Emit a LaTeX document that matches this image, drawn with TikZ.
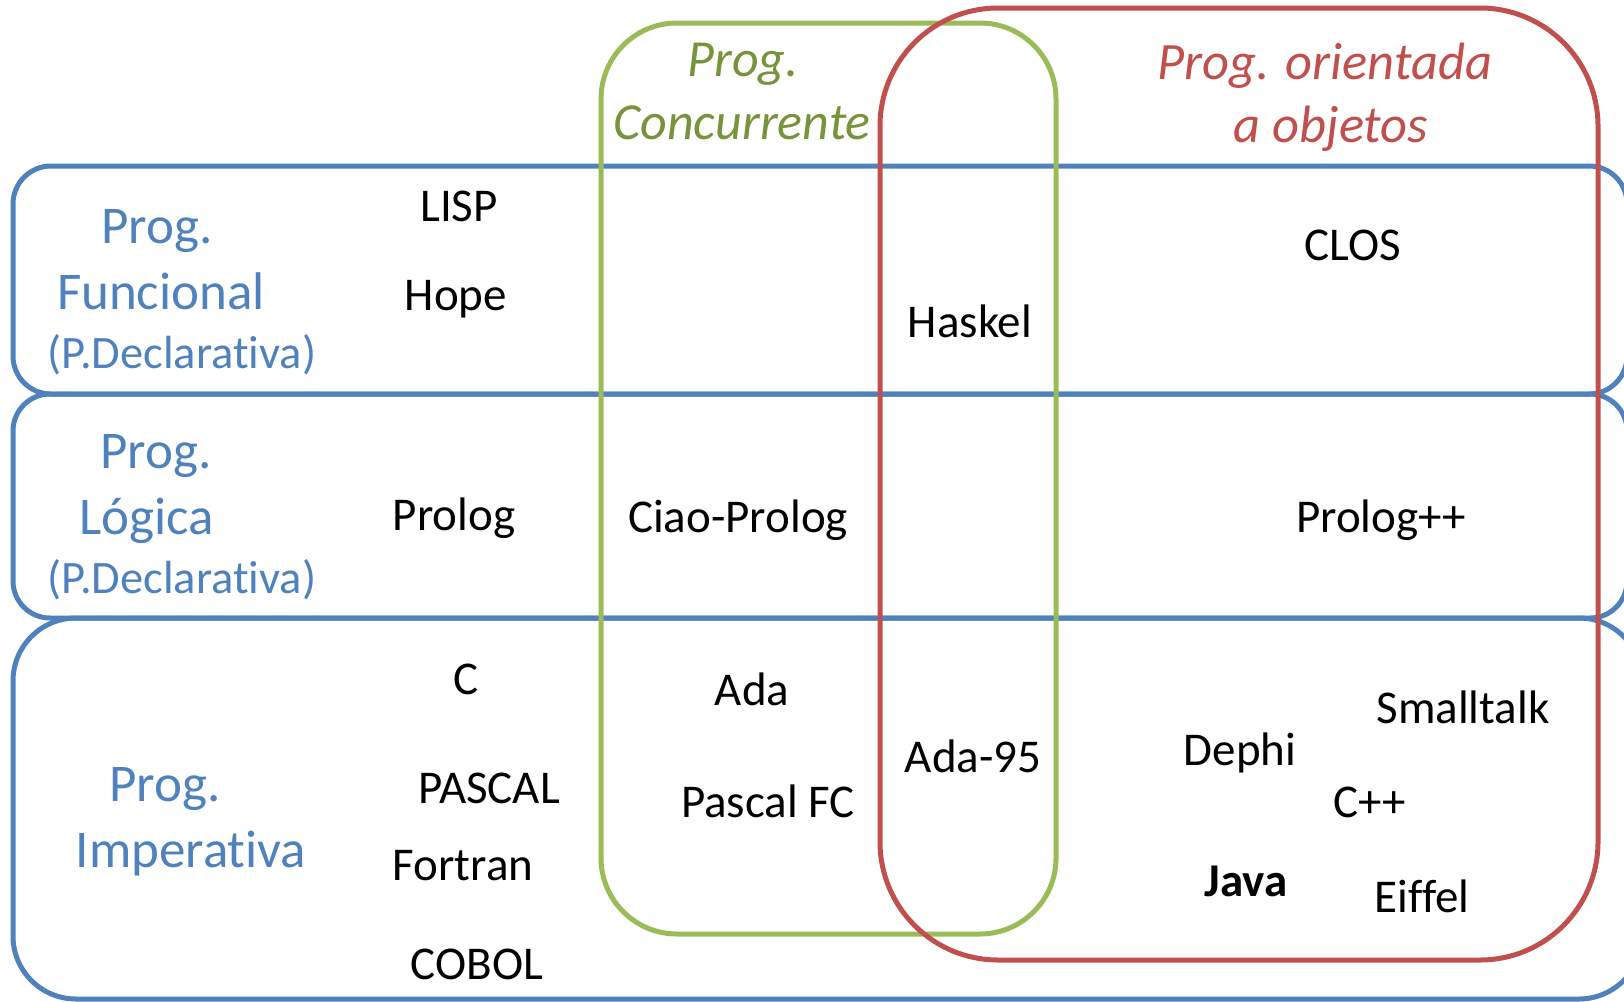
\documentclass[tikz,border=0pt]{standalone}
\usepackage{fontspec}
\setmainfont{Carlito}[Ligatures=NoCommon]
\definecolor{bbox}{HTML}{4F81BD}
\definecolor{rbox}{HTML}{C0504D}
\definecolor{gbox}{HTML}{9BBB59}
\definecolor{gtext}{HTML}{77933C}
\tikzset{
  lang/.style={anchor=base, inner sep=0pt, font=\fontsize{47}{56}\selectfont, text=black},
  btitle/.style={anchor=base, inner sep=0pt, font=\fontsize{53}{62}\selectfont, text=bbox},
  bpar/.style={anchor=base, inner sep=0pt, font=\fontsize{46.5}{55}\selectfont, text=bbox},
  gtitle/.style={anchor=base, inner sep=0pt, font=\fontsize{52}{62}\selectfont\itshape, text=gtext},
  rtitle/.style={anchor=base, inner sep=0pt, font=\fontsize{52.5}{62}\selectfont\itshape, text=rbox},
  bluebox/.style={draw=bbox, line width=5pt},
  greenbox/.style={draw=gbox, line width=5pt},
  redbox/.style={draw=rbox, line width=5pt}
}
\begin{document}
\begin{tikzpicture}[x=1pt, y=-1pt]
\useasboundingbox (0,0) rectangle (1624,1001);
% paradigm rows
\draw[bluebox, rounded corners=38pt] (13,166) rectangle (1627,394);
\draw[bluebox, rounded corners=37pt] (13,394) rectangle (1627,618);
\draw[bluebox, rounded corners=63pt] (13,618) rectangle (1642,999);
% concurrent
\draw[greenbox, rounded corners=76pt] (601,23) rectangle (1056,934);
% object oriented
\draw[redbox, rounded corners=118pt] (880,8) rectangle (1598,960);

% titles
\node[gtitle] (gt1) at (743,76) {Prog.};
\node[gtitle] (gt2) at (742,139) {Concurrente};
\node[rtitle] (rt1) at (1325,79) {Prog. orientada};
\node[rtitle] (rt2) at (1331,142) {a objetos};

\node[btitle] (f1) at (157,243) {Prog.};
\node[btitle] (f2) at (161,309) {Funcional};
\node[bpar] (f3) at (182,368) {(P.Declarativa)};
\node[btitle] (l1) at (156,468) {Prog.};
\node[btitle] (l2) at (147,534) {Lógica};
\node[bpar] (l3) at (182,593) {(P.Declarativa)};
\node[btitle] (i1) at (165,801) {Prog.};
\node[btitle] (i2) at (191,867) {Imperativa};

% languages
\node[lang] (lisp) at (459,221) {LISP};
\node[lang] (hope) at (456,310) {Hope};
\node[lang] (prolog) at (454,530) {Prolog};
\node[lang] (c) at (466,694) {C};
\node[lang] (pascal) at (489,803) {PASCAL};
\node[lang] (fortran) at (463,880) {Fortran};
\node[lang] (cobol) at (477,979) {COBOL};
\node[lang] (clos) at (1353,260) {CLOS};
\node[lang] (haskel) at (970,337) {Haskel};
\node[lang] (ciao) at (738,532) {Ciao-Prolog};
\node[lang] (prologpp) at (1381,532) {Prolog++};
\node[lang] (ada) at (752,705) {Ada};
\node[lang] (pascalfc) at (768,817) {Pascal FC};
\node[lang] (ada95) at (973,772) {Ada-95};
\node[lang] (smalltalk) at (1463,723) {Smalltalk};
\node[lang] (dephi) at (1240,765) {Dephi};
\node[lang] (cpp) at (1370,817) {C++};
\node[lang, font=\fontsize{47}{56}\selectfont\bfseries] (java) at (1246,896) {Java};
\node[lang] (eiffel) at (1422,912) {Eiffel};
\end{tikzpicture}
\end{document}
